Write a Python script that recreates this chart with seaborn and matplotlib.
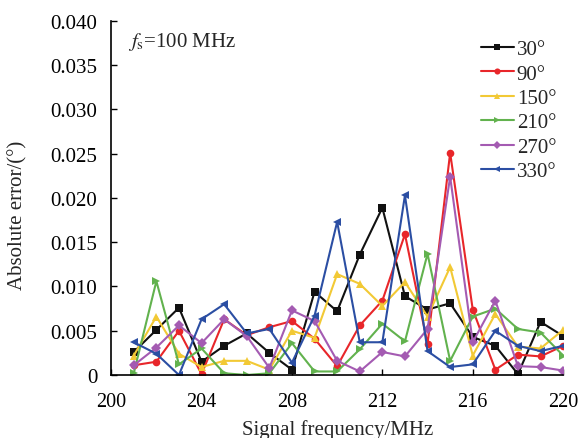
import numpy as np
import pandas as pd
import matplotlib
matplotlib.use("Agg")
import matplotlib.pyplot as plt
import seaborn as sns

freq = list(range(201, 221))
series_names = ["30°", "90°", "150°", "210°", "270°", "330°"]
err_30 = [0.0026, 0.0051, 0.0076, 0.0015, 0.0033, 0.0047, 0.0025, 0.0006, 0.0094, 0.0072,
          0.0136, 0.0189, 0.0089, 0.0074, 0.0081, 0.0043, 0.0033, 0.0001, 0.0060, 0.0044]
err_90 = [0.0011, 0.0015, 0.0050, 0.0001, 0.0063, 0.0045, 0.0054, 0.0061, 0.0041, 0.0010,
          0.0056, 0.0084, 0.0159, 0.0035, 0.0251, 0.0074, 0.0006, 0.0023, 0.0021, 0.0033]
err_150 = [0.0022, 0.0066, 0.0024, 0.0009, 0.0016, 0.0016, 0.0006, 0.0050, 0.0042, 0.0114,
           0.0103, 0.0078, 0.0105, 0.0066, 0.0122, 0.0022, 0.0069, 0.0032, 0.0030, 0.0051]
err_210 = [0.0002, 0.0106, 0.0012, 0.0030, 0.0002, 0.0000, 0.0002, 0.0036, 0.0004, 0.0004,
           0.0029, 0.0058, 0.0038, 0.0137, 0.0016, 0.0066, 0.0075, 0.0052, 0.0048, 0.0022]
err_270 = [0.0011, 0.0031, 0.0056, 0.0036, 0.0063, 0.0044, 0.0008, 0.0073, 0.0061, 0.0016,
           0.0004, 0.0026, 0.0021, 0.0052, 0.0224, 0.0037, 0.0084, 0.0010, 0.0009, 0.0005]
err_330 = [0.0037, 0.0024, 0.0000, 0.0063, 0.0080, 0.0047, 0.0052, 0.0014, 0.0067, 0.0173,
           0.0037, 0.0037, 0.0203, 0.0027, 0.0009, 0.0012, 0.0050, 0.0033, 0.0027, 0.0033]
x_ticks = [200, 204, 208, 212, 216, 220]
y_ticks = [0, 0.005, 0.010, 0.015, 0.020, 0.025, 0.030, 0.035, 0.040]
y_tick_labels = ["0", "0.005", "0.010", "0.015", "0.020", "0.025", "0.030", "0.035", "0.040"]

all_series = [err_30, err_90, err_150, err_210, err_270, err_330]
df = pd.DataFrame({
    "freq": freq * len(series_names),
    "err": [v for s in all_series for v in s],
    "angle": [n for n in series_names for _ in freq],
})

colors = ["#111111", "#e8262a", "#f2c935", "#62b24e", "#a45bb2", "#2b4ea3"]
markers = ["s", "o", "^", ">", "D", "<"]
palette = dict(zip(series_names, colors))
marker_map = dict(zip(series_names, markers))

sns.set_theme(style="ticks")
plt.rcParams["font.family"] = ["Liberation Serif", "DejaVu Serif"]
plt.rcParams["mathtext.fontset"] = "stix"

FS = 15

fig = plt.figure(figsize=(5.79, 4.39), dpi=100)
ax = fig.add_axes([0.192, 0.1435, 0.7806, 0.8065])

sns.lineplot(data=df, x="freq", y="err", hue="angle", style="angle",
             palette=palette, markers=marker_map, dashes=False,
             hue_order=series_names, style_order=series_names,
             linewidth=1.5, markersize=5.5, markeredgewidth=0,
             ax=ax, legend=True)

ax.set_xlim(200, 220)
ax.set_ylim(0, 0.040)
ax.set_xticks(x_ticks)
ax.set_xticklabels([str(t) for t in x_ticks])
ax.set_yticks(y_ticks)
ax.set_yticklabels(y_tick_labels)
ax.tick_params(direction="in", length=4, width=1, labelsize=FS, colors="black")
ax.tick_params(axis="x", pad=12, labelsize=14.5)
ax.tick_params(axis="y", pad=10)
for s in ["top", "right"]:
    ax.spines[s].set_visible(False)
for s in ["left", "bottom"]:
    ax.spines[s].set_linewidth(1.2)
    ax.spines[s].set_color("black")

ax.set_xlabel("Signal frequency/MHz", fontsize=FS, labelpad=6)
ax.set_ylabel("Absolute error/(°)", fontsize=FS)
ax.yaxis.set_label_coords(-0.185, 0.455)

ax.text(0.037, 0.943, r"$f_{\mathrm{s}}$=100 MHz", transform=ax.transAxes,
        fontsize=FS, va="center", ha="left")

handles, labels = ax.get_legend_handles_labels()
leg = ax.legend(handles, labels, loc="upper right", bbox_to_anchor=(0.985, 0.947),
                frameon=False, fontsize=FS, handlelength=1.55, handletextpad=0.15,
                labelspacing=0.23, borderaxespad=0, borderpad=0, markerscale=0.8)

fig.savefig("out.png", dpi=100)
